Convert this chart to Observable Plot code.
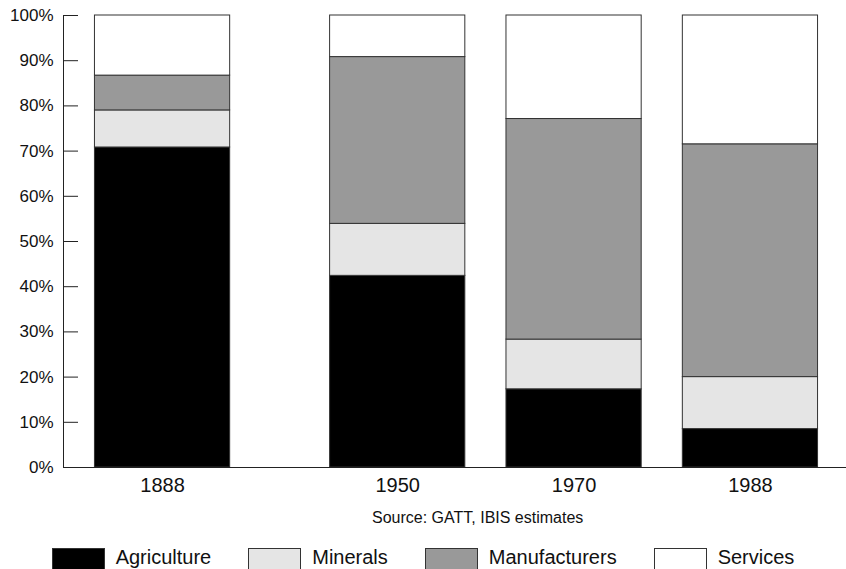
<!DOCTYPE html>
<html>
<head>
<meta charset="utf-8">
<script src="https://cdn.jsdelivr.net/npm/d3@7"></script>
<script src="https://cdn.jsdelivr.net/npm/@observablehq/plot@0.6"></script>
<style>
  body { margin: 0; background: #fff; font-family: "Liberation Sans", Arial, Helvetica, sans-serif; color: #111; }
  #wrap { position: relative; width: 846px; height: 569px; overflow: hidden; background: #fff; }
  #chart { position: absolute; left: 0; top: 0; }
  #caption { position: absolute; left: 372px; top: 507.5px; font-size: 16px; line-height: 20px; white-space: nowrap; }
  #legend { position: absolute; left: 0; top: 545px; width: 846px; display: flex; justify-content: center; gap: 37px; }
  .item { display: flex; align-items: flex-start; }
  .sw { width: 53px; height: 25px; box-sizing: border-box; border: 1px solid #333; margin-top: 3px; margin-right: 11px; }
  .lab { font-size: 20px; line-height: 24px; white-space: nowrap; }
</style>
</head>
<body>
<div id="wrap">
  <div id="chart"></div>
  <div id="caption"></div>
  <div id="legend"></div>
</div>
<script>
// ---- data ----
const years = ["1888", "1950", "1970", "1988"];
const sectors = ["Agriculture", "Minerals", "Manufacturers", "Services"];
const agriculture   = [70.8, 42.4, 17.3, 8.5];
const minerals      = [8.2, 11.5, 11.0, 11.5];
const manufacturers = [7.7, 36.9, 48.8, 51.5];
const services      = [13.3, 9.2, 22.9, 28.5];
const yTicks = [0, 10, 20, 30, 40, 50, 60, 70, 80, 90, 100];
const captionText = "Source: GATT, IBIS estimates";

// ---- layout / style ----
const slotOf = {"1888": 0, "1950": 4, "1970": 7, "1988": 10};
const halfWidth = 1.15;
const colors = ["#000000", "#e5e5e5", "#999999", "#ffffff"];
const W = 846, ML = 63, MR = 0, TICK = 15;

const series = [agriculture, minerals, manufacturers, services];
const rows = [];
years.forEach((yr, i) => {
  sectors.forEach((s, j) => rows.push({year: yr, sector: s, value: series[j][i]}));
});

const chart = Plot.plot({
  width: W,
  height: 500,
  marginLeft: ML,
  marginRight: MR,
  marginTop: 15,
  marginBottom: 33,
  style: {fontFamily: '"Liberation Sans", Arial, Helvetica, sans-serif', background: "#fff", color: "#111"},
  x: {type: "linear", domain: [-1.685, 11.634], axis: null},
  y: {domain: [0, 100], axis: null},
  color: {domain: sectors, range: colors},
  marks: [
    Plot.rect(rows, Plot.stackY({
      x: d => slotOf[d.year],
      x1: d => slotOf[d.year] - halfWidth,
      x2: d => slotOf[d.year] + halfWidth,
      y: "value",
      z: "sector",
      order: null,
      fill: "sector",
      stroke: "#333",
      strokeWidth: 1
    })),
    Plot.frame({anchor: "left", stroke: "#222"}),
    Plot.frame({anchor: "bottom", stroke: "#222"}),
    Plot.tickY(yTicks, {y: d => d, stroke: "#222", insetRight: W - ML - MR - TICK}),
    Plot.axisY({ticks: yTicks, tickFormat: d => d + "%", tickSize: 0, tickPadding: 10, fontSize: 17, label: null}),
    Plot.axisX({ticks: years.map(y => slotOf[y]), tickFormat: s => years.find(y => slotOf[y] === s), tickSize: 0, tickPadding: 10, fontSize: 20, label: null})
  ]
});
document.getElementById("chart").appendChild(chart);

document.getElementById("caption").textContent = captionText;

const legend = document.getElementById("legend");
sectors.forEach((s, j) => {
  const item = document.createElement("div");
  item.className = "item";
  const sw = document.createElement("div");
  sw.className = "sw";
  sw.style.background = colors[j];
  const lab = document.createElement("div");
  lab.className = "lab";
  lab.textContent = s;
  item.appendChild(sw);
  item.appendChild(lab);
  legend.appendChild(item);
});
</script>
</body>
</html>
